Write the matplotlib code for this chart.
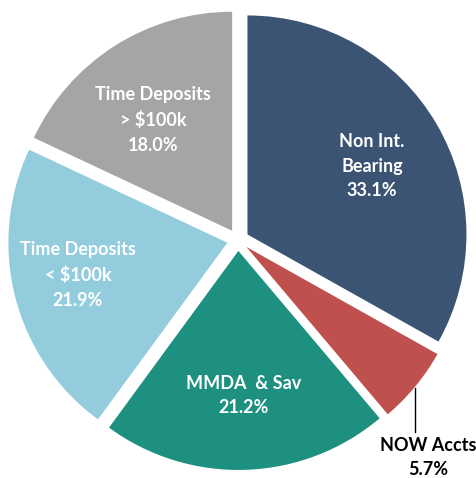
import matplotlib
matplotlib.use("Agg")
import matplotlib.pyplot as plt
import numpy as np

categories = ["Non Int.\nBearing", "NOW Accts", "MMDA  & Sav", "Time Deposits\n< $100k", "Time Deposits\n> $100k"]
values = [33.1, 5.7, 21.2, 21.9, 18.0]
colors = ["#3C5473", "#C0504D", "#1D9080", "#93CDDD", "#A5A5A5"]
# label placement (distance from wedge centre, angular nudge in degrees)
label_dist = [0.656, None, 0.645, 0.695, 0.635]
label_nudge = [-0.5, 0.0, 0.0, -3.5, 2.3]

fig = plt.figure(figsize=(4.77, 4.78), dpi=100)
ax = fig.add_axes([0, 0, 1, 1])
R = 219.0
cx, cy = 238.0, 240.0

wedges, texts = ax.pie(
    values, colors=colors, startangle=90, counterclock=False,
    explode=[0.05] * len(values), radius=1.0,
    wedgeprops=dict(linewidth=0),
)
ax.set_xlim(-cx / R, (477 - cx) / R)
ax.set_ylim(-(478 - cy) / R, cy / R)
ax.set_aspect("equal")
ax.axis("off")

for w, cat, v, d, nd in zip(wedges, categories, values, label_dist, label_nudge):
    if d is None:
        continue
    ang = np.deg2rad((w.theta1 + w.theta2) / 2 + nd)
    x0, y0 = w.center
    ax.text(x0 + d * np.cos(ang), y0 + d * np.sin(ang) - 0.015, f"{cat}\n{v:.1f}%",
            ha="center", va="center", color="white", fontsize=13, fontweight="bold",
            family="Lato", linespacing=1.55)

# NOW Accts label outside with leader line
ax.plot([0.808, 0.808], [-0.676, -0.877], color="black", linewidth=1)
ax.text(0.868, -0.9, f"{categories[1]}\n{values[1]:.1f}%", ha="center", va="top",
        fontsize=13, fontweight="bold", family="Lato", color="black", linespacing=1.5)

fig.savefig("out.png", dpi=100)
